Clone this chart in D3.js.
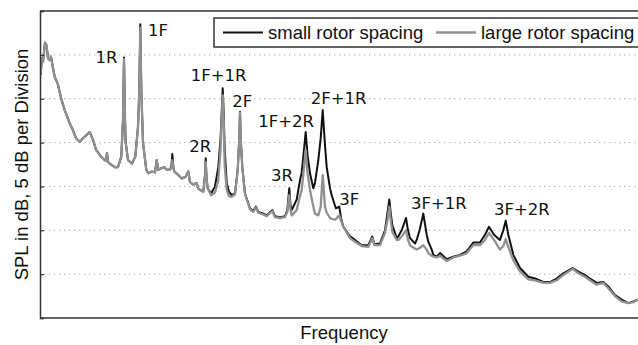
<!DOCTYPE html>
<html>
<head>
<meta charset="utf-8">
<script src="https://cdn.jsdelivr.net/npm/d3@7"></script>
<style>
  html, body { margin: 0; padding: 0; background: #fff; }
  svg { display: block; }
</style>
</head>
<body>
<svg id="chart" width="638" height="345"></svg>
<script>
// Frequency bins (arbitrary linear units, no tick labels on this axis)
const freq = [
  0.5, 2, 3, 5, 6.5, 8, 9.7, 11, 12, 14.7, 17, 18, 21, 24.7, 27, 29.7, 33, 36, 39.7, 43,
  46, 49.7, 53, 56, 61, 64.7, 66, 67, 68, 69.7, 74.7, 78, 81.3, 83, 84, 85, 85.7, 88, 92, 95.3,
  98, 99.3, 100.3, 101.3, 103, 106.3, 108.3, 111.7, 115, 116.7, 118.3, 121.7, 124.3, 126.7, 130, 131.5, 132.3, 133.5, 134.3, 138.3,
  141.7, 145.7, 148.3, 150, 153.3, 156.7, 158, 160, 163.3, 165, 165.7, 166.5, 167.7, 171, 175, 178.3, 180.5, 181.8, 182.7, 183.6,
  184.7, 186.7, 189, 191.7, 195, 197.7, 199.2, 200, 200.8, 202.3, 205, 210, 213.3, 216, 218.3, 223.3, 226.7, 232.3, 235, 240,
  245, 247.3, 249.3, 250.5, 251.7, 255, 256.7, 260, 261.7, 263.5, 265.7, 267.5, 270, 273.3, 275, 278.3, 280.7, 282.7, 285, 286.7,
  290, 291.7, 295, 296, 299.3, 301, 303.3, 310, 315, 321.7, 328.3, 332.3, 334.3, 340, 345, 347.5, 349.3, 351, 352.3, 356.7,
  358.3, 361.7, 366, 368, 370, 375, 376.7, 380, 383.3, 386.7, 388.3, 391.7, 393.3, 396.7, 400, 406.7, 413.3, 420, 426.7, 433.3,
  440, 445, 449, 454, 460, 463.3, 465.7, 468.3, 473.3, 480, 488.3, 495, 503.3, 510, 516.7, 523.3, 532.7, 538.3, 545, 550,
  556.7, 563.3, 568.3, 575, 581.7, 588.3, 593.3, 598
];

// SPL, small rotor spacing (dB, relative)
const splSmall = [
  27.7, 29.6, 29.2, 31.4, 31.1, 29.6, 29.4, 29.8, 29.1, 27.5, 26.9, 26.6, 25.1, 23.7, 23.0, 22.2, 21.4, 20.5, 20.1, 20.5,
  20.8, 21.2, 20.3, 19.2, 18.4, 18.0, 17.9, 18.8, 17.8, 17.6, 17.2, 17.2, 18.4, 22.6, 29.7, 22.6, 20.0, 18.0, 17.6, 18.4,
  21.8, 26.0, 33.5, 26.0, 20.0, 16.9, 16.5, 16.7, 16.6, 18.0, 16.9, 17.1, 17.2, 16.9, 16.9, 17.4, 18.7, 17.1, 16.7, 16.3,
  15.9, 16.1, 16.7, 15.5, 15.2, 15.4, 14.8, 14.6, 14.4, 16.3, 18.2, 16.0, 14.8, 14.2, 15.0, 17.2, 20.3, 23.7, 26.2, 23.7,
  19.2, 15.4, 14.4, 14.0, 14.2, 16.9, 20.3, 23.5, 20.3, 17.2, 14.2, 12.5, 12.2, 12.7, 12.1, 11.9, 11.7, 12.3, 11.6, 11.5,
  11.6, 12.3, 14.8, 12.9, 12.3, 13.1, 13.5, 15.7, 16.6, 18.6, 21.2, 18.6, 16.5, 14.8, 15.4, 18.0, 20.5, 23.7, 19.7, 17.2,
  14.8, 14.0, 12.8, 12.5, 12.7, 11.4, 10.4, 9.3, 8.9, 8.3, 8.3, 9.3, 8.4, 8.5, 10.0, 12.0, 13.5, 11.7, 10.6, 9.1,
  9.3, 10.0, 11.4, 10.0, 9.1, 8.5, 8.9, 10.2, 11.9, 9.5, 8.7, 7.8, 7.2, 7.0, 7.4, 6.7, 7.0, 7.2, 7.6, 8.6,
  8.6, 9.5, 10.4, 9.5, 8.9, 10.0, 11.1, 9.5, 7.2, 5.7, 4.7, 4.5, 4.1, 4.1, 4.5, 5.1, 5.7, 5.3, 4.9, 4.5,
  4.0, 4.1, 3.6, 2.6, 2.1, 1.7, 1.9, 2.1
];

// SPL, large rotor spacing (dB, relative)
const splLarge = [
  27.7, 29.6, 29.2, 31.4, 31.1, 29.6, 29.4, 29.8, 29.1, 27.5, 26.9, 26.6, 25.1, 23.7, 23.0, 22.2, 21.4, 20.5, 20.1, 20.5,
  20.8, 21.2, 20.3, 19.2, 18.4, 18.0, 17.9, 18.8, 17.8, 17.6, 17.2, 17.2, 18.4, 22.6, 29.5, 22.6, 20.0, 18.0, 17.6, 18.4,
  21.8, 26.0, 33.1, 26.0, 20.0, 16.9, 16.5, 16.7, 16.6, 18.0, 16.9, 17.1, 17.2, 16.9, 16.9, 17.2, 18.0, 17.0, 16.7, 16.3,
  15.9, 16.1, 16.7, 15.5, 15.2, 15.4, 14.8, 14.6, 14.4, 16.1, 17.8, 15.9, 14.8, 14.0, 14.3, 15.7, 19.2, 23.1, 25.4, 22.8,
  17.4, 14.6, 13.9, 13.8, 14.1, 16.8, 20.2, 23.4, 20.2, 17.1, 14.1, 12.4, 12.1, 12.6, 12.0, 11.8, 11.6, 12.2, 11.5, 11.4,
  11.5, 12.1, 14.0, 12.3, 11.7, 12.1, 12.3, 13.9, 14.6, 16.6, 19.2, 16.6, 14.6, 12.7, 11.9, 11.7, 12.7, 16.3, 12.7, 12.0,
  11.4, 11.3, 11.2, 11.3, 11.7, 11.1, 10.4, 9.1, 8.7, 8.2, 8.1, 9.1, 8.3, 8.3, 9.7, 11.2, 12.7, 10.9, 9.8, 8.9,
  8.9, 9.3, 10.0, 8.9, 8.3, 7.9, 7.8, 8.0, 8.3, 7.8, 7.4, 7.1, 7.0, 6.9, 7.1, 6.5, 6.9, 7.1, 7.4, 8.3,
  8.3, 8.9, 9.7, 8.9, 7.8, 8.2, 9.0, 8.1, 6.6, 5.3, 4.4, 4.3, 4.0, 4.0, 4.3, 4.9, 5.6, 5.1, 4.7, 4.3,
  3.8, 4.0, 3.4, 2.5, 1.9, 1.7, 1.8, 2.1
];

// Harmonic labels: name, frequency and level of the label's anchor
const peakNames = ["1R", "1F", "1F+1R", "2R", "2F", "1F+2R", "2F+1R", "3R", "3F", "3F+1R", "3F+2R"];
const peakFreq  = [55.5, 108, 150.7, 149.3, 192.3, 218.3, 270.7, 231, 299.3, 371, 454];
const peakLevel = [29.1, 32.1, 27.0, 18.9, 24.1, 21.8, 24.4, 15.6, 12.9, 12.4, 11.7];

const seriesNames = ["small rotor spacing", "large rotor spacing"];
const yTicks = [0, 5, 10, 15, 20, 25, 30, 35];

const svg = d3.select("#chart");
const margin = { left: 40, top: 11, right: -2, bottom: 27 };
const W = 638, H = 345;

const x = d3.scaleLinear().domain([0, 600]).range([margin.left, W - margin.right]);
const y = d3.scaleLinear().domain([0, 35]).range([H - margin.bottom, margin.top]);

// dotted horizontal grid at each 5 dB division
svg.append("g")
  .selectAll("line")
  .data(yTicks.filter(t => t > 0 && t < 35))
  .join("line")
  .attr("x1", x(0) + 4).attr("x2", W)
  .attr("y1", d => y(d)).attr("y2", d => y(d))
  .attr("stroke", "#a8a8a8")
  .attr("stroke-width", 1)
  .attr("stroke-dasharray", "1.3,3.7");

// curves
const line = d3.line()
  .x(d => x(d[0]))
  .y(d => y(d[1]));

const clip = svg.append("clipPath").attr("id", "plotclip")
  .append("rect").attr("x", x(0)).attr("y", y(35)).attr("width", W - x(0)).attr("height", y(0) - y(35));

const plot = svg.append("g").attr("clip-path", "url(#plotclip)");

plot.append("path")
  .datum(freq.map((f, i) => [f, splSmall[i]]))
  .attr("d", line)
  .attr("fill", "none")
  .attr("stroke", "#111")
  .attr("stroke-width", 2)
  .attr("stroke-linejoin", "round");

plot.append("path")
  .datum(freq.map((f, i) => [f, splLarge[i]]))
  .attr("d", line)
  .attr("fill", "none")
  .attr("stroke", "#909090")
  .attr("stroke-width", 2.3)
  .attr("stroke-linejoin", "round");

// left axis with inward ticks, no labels
const yAxis = d3.axisLeft(y).tickValues(yTicks).tickSize(-4).tickFormat("");
const gy = svg.append("g").attr("transform", `translate(${x(0)},0)`).call(yAxis);
gy.select(".domain").attr("stroke", "#333").attr("stroke-width", 1.5);
gy.selectAll(".tick line").attr("stroke", "#333").attr("stroke-width", 1.2);

// bottom and top frame lines
svg.append("line")
  .attr("x1", x(0)).attr("x2", W).attr("y1", y(0)).attr("y2", y(0))
  .attr("stroke", "#333").attr("stroke-width", 1.5);
svg.append("line")
  .attr("x1", x(0)).attr("x2", W).attr("y1", y(35)).attr("y2", y(35))
  .attr("stroke", "#333").attr("stroke-width", 1.5);

// harmonic labels
svg.append("g")
  .selectAll("text")
  .data(peakNames)
  .join("text")
  .attr("x", (d, i) => x(peakFreq[i]))
  .attr("y", (d, i) => y(peakLevel[i]))
  .attr("font-family", "DejaVu Sans")
  .attr("font-size", 16.5)
  .attr("fill", "#111")
  .text(d => d);

// legend
const lg = svg.append("g");
lg.append("rect")
  .attr("x", 214).attr("y", 18).attr("width", 440).attr("height", 29)
  .attr("fill", "#fff").attr("stroke", "#333").attr("stroke-width", 1.5);
const legendColors = ["#111", "#909090"];
const legendX = [223, 436];
seriesNames.forEach((name, i) => {
  lg.append("line")
    .attr("x1", legendX[i]).attr("x2", legendX[i] + 40)
    .attr("y1", 32.5).attr("y2", 32.5)
    .attr("stroke", legendColors[i]).attr("stroke-width", i ? 2.3 : 2);
  lg.append("text")
    .attr("x", legendX[i] + 45).attr("y", 39)
    .attr("font-family", "Liberation Sans, Arial, sans-serif")
    .attr("font-size", 18.5)
    .attr("fill", "#111")
    .text(name);
});

// axis titles
svg.append("text")
  .attr("transform", `translate(28,${(y(0) + y(35)) / 2}) rotate(-90)`)
  .attr("text-anchor", "middle")
  .attr("font-family", "Liberation Sans, Arial, sans-serif")
  .attr("font-size", 18.5)
  .attr("fill", "#111")
  .text("SPL in dB, 5 dB per Division");

svg.append("text")
  .attr("x", 344).attr("y", 339)
  .attr("text-anchor", "middle")
  .attr("font-family", "Liberation Sans, Arial, sans-serif")
  .attr("font-size", 18.5)
  .attr("fill", "#111")
  .text("Frequency");
</script>
</body>
</html>
